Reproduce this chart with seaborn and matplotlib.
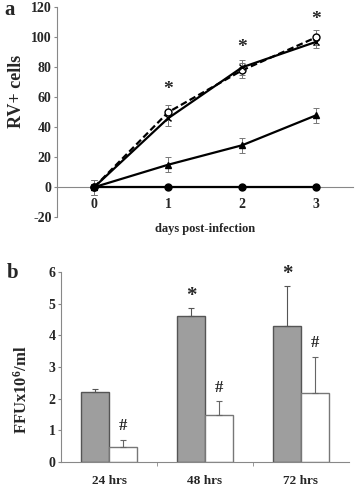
import matplotlib
matplotlib.use("Agg")
import matplotlib.pyplot as plt
import numpy as np
import pandas as pd
import seaborn as sns

# panel a data
days = [0, 1, 2, 3]
open_circle = [0, 50, 78, 100]
open_circle_err = [5, 5, 5, 5]
cross = [0, 46, 80, 97]
cross_err = [5, 5, 5, 4]
triangle = [0, 15, 28, 48]
triangle_err = [5, 5, 5, 5]
filled_circle = [0, 0, 0, 0]
star_a_x = [1, 2, 3]
star_a_y = [65, 93, 112]

# panel b data
times = ["24 hrs", "48 hrs", "72 hrs"]
grey_vals = [2.22, 4.6, 4.3]
grey_err = [0.1, 0.27, 1.25]
white_vals = [0.48, 1.47, 2.18]
white_err = [0.2, 0.45, 1.15]
star_b = [None, 4.93, 5.62]
hash_b = [0.88, 2.08, 3.52]

sns.set_style("white")
plt.rcParams["font.family"] = ["Liberation Serif", "DejaVu Serif"]
plt.rcParams["font.weight"] = "bold"
plt.rcParams["axes.unicode_minus"] = False
plt.rcParams["mathtext.fontset"] = "custom"
plt.rcParams["mathtext.rm"] = "Liberation Serif:bold"
plt.rcParams["mathtext.it"] = "Liberation Serif:bold"
plt.rcParams["mathtext.bf"] = "Liberation Serif:bold"

fig = plt.figure(figsize=(3.59, 4.87), dpi=100)
ax1 = fig.add_axes([0.159, 0.554, 0.825, 0.431])
ax2 = fig.add_axes([0.170, 0.0513, 0.802, 0.390])

# ---- panel a
series = [
    (open_circle, open_circle_err, "o", "white", (0, (3, 1.5))),
    (cross, cross_err, "x", "black", "-"),
    (triangle, triangle_err, "^", "black", "-"),
    (filled_circle, [0, 0, 0, 0], "o", "black", "-"),
]
for vals, err, mk, fc, ls in series:
    ax1.errorbar(days, vals, yerr=err, fmt="none", ecolor="#777777",
                 elinewidth=0.7, capsize=2, capthick=0.7, zorder=2)
    sns.lineplot(x=days, y=vals, ax=ax1, color="black", lw=1.6,
                 linestyle=ls, marker=mk, markersize=5,
                 markerfacecolor=fc, markeredgecolor="black",
                 markeredgewidth=1.0, zorder=3)
for x, y in zip(star_a_x, star_a_y):
    ax1.text(x, y, "*", ha="center", va="center", fontsize=14)

ax1.set_xlim(-0.5, 3.5)
ax1.set_ylim(-20, 120)
ax1.set_yticks(range(-20, 121, 20))
ax1.set_xticks(days)
for s in ["top", "right"]:
    ax1.spines[s].set_visible(False)
ax1.spines["bottom"].set_position(("data", 0))
for s in ["left", "bottom"]:
    ax1.spines[s].set_color("#888888")
    ax1.spines[s].set_linewidth(0.8)
ax1.tick_params(axis="y", labelsize=10, length=2, color="#888888", left=True, pad=2)
ax1.tick_params(axis="x", labelsize=10, length=2, color="#888888", bottom=True, pad=6)
ax1.set_ylabel("RV+ cells", fontsize=13, fontweight="bold")
ax1.yaxis.set_label_coords(-0.11, 0.6)
ax1.set_xlabel("days post-infection", fontsize=9, fontweight="bold")
ax1.xaxis.set_label_coords(0.5, -0.03)
fig.text(0.012, 0.98, "a", fontsize=15, fontweight="bold", va="center")

# ---- panel b
df = pd.DataFrame({
    "time": times * 2,
    "value": grey_vals + white_vals,
    "group": ["grey"] * 3 + ["white"] * 3,
})
sns.barplot(data=df, x="time", y="value", hue="group", ax=ax2,
            palette={"grey": "#9e9e9e", "white": "white"},
            edgecolor="#555555", linewidth=1.0, width=0.58,
            legend=False, errorbar=None, saturation=1)
bars = ax2.patches
for p in bars[3:6]:
    p.set_edgecolor("#777777")
grey_x = [p.get_x() + p.get_width() / 2 for p in bars[:3]]
white_x = [p.get_x() + p.get_width() / 2 for p in bars[3:6]]
ax2.errorbar(grey_x, grey_vals, yerr=[[0] * 3, grey_err], fmt="none",
             ecolor="#555555", elinewidth=0.8, capsize=2.5, capthick=0.8)
ax2.errorbar(white_x, white_vals, yerr=[[0] * 3, white_err], fmt="none",
             ecolor="#666666", elinewidth=0.8, capsize=2.5, capthick=0.8)
for x, y in zip(grey_x, star_b):
    if y is not None:
        ax2.text(x, y, "*", ha="center", va="bottom", fontsize=15)
for x, y in zip(white_x, hash_b):
    ax2.text(x, y, "#", ha="center", va="bottom", fontsize=12)

ax2.set_xlim(-0.5, 2.5)
ax2.set_ylim(0, 6)
ax2.set_yticks(range(0, 7))
ax2.set_xticks([0.5, 1.5], minor=True)
ax2.tick_params(axis="x", which="major", length=0, labelsize=9.5, pad=9)
ax2.tick_params(axis="x", which="minor", length=3, color="#888888", bottom=True)
ax2.tick_params(axis="y", labelsize=10, length=2, color="#888888", left=True, pad=2)
for s in ["top", "right"]:
    ax2.spines[s].set_visible(False)
for s in ["left", "bottom"]:
    ax2.spines[s].set_color("#888888")
    ax2.spines[s].set_linewidth(0.8)
ax2.set_xlabel("")
ax2.set_ylabel("FFUx10$^6$/ml", fontsize=12, fontweight="bold")
ax2.yaxis.set_label_coords(-0.105, 0.38)
fig.text(0.02, 0.44, "b", fontsize=15, fontweight="bold", va="center")

fig.savefig("out.png", dpi=100)
